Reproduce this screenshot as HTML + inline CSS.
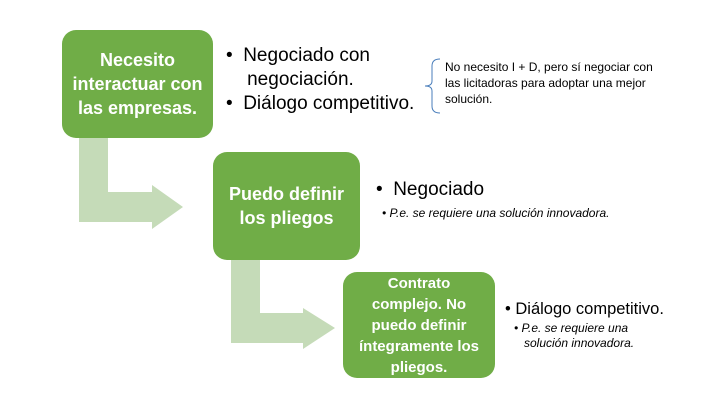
<!DOCTYPE html>
<html><head><meta charset="utf-8"><style>
body{margin:0;width:720px;height:405px;background:#fff;position:relative;overflow:hidden;font-family:"Liberation Sans",sans-serif}
.b{position:absolute;background:#70ad47;border-radius:14px;color:#fff;font-weight:bold;display:flex;align-items:center;justify-content:center;text-align:center}
.t{position:absolute;color:#000;white-space:nowrap}
</style></head><body>
<svg width="720" height="405" style="position:absolute;left:0;top:0">
<polygon points="79,138 108,138 108,192 152,192 152,185 183,207 152,229 152,222 79,222" fill="#c5dbb8"/>
<polygon points="231,260 260,260 260,313 303,313 303,308 335,328 303,349 303,343 231,343" fill="#c5dbb8"/>
<path d="M440,59 Q432,59 432,66 L432,81 Q432,86 425,86 Q432,86 432,91 L432,106 Q432,113 440,113" fill="none" stroke="#4a7ebb" stroke-width="1"/>
</svg>
<div class="b" style="left:62px;top:30px;width:151px;height:108px;font-size:18px;line-height:24px">Necesito<br>interactuar con<br>las empresas.</div>
<div class="b" style="left:213px;top:152px;width:147px;height:108px;font-size:18px;line-height:24px">Puedo definir<br>los pliegos</div>
<div class="b" style="left:343px;top:272px;width:152px;height:106px;font-size:15px;line-height:21px">Contrato<br>complejo. No<br>puedo definir<br>íntegramente los<br>pliegos.</div>
<div class="t" style="left:226px;top:44px;font-size:19px;line-height:24px">•&nbsp; Negociado con<br>&nbsp;&nbsp;&nbsp;&nbsp;negociación.<br>•&nbsp; Diálogo competitivo.</div>
<div class="t" style="left:445px;top:59px;font-size:12px;line-height:16px">No necesito I + D, pero sí negociar con<br>las licitadoras para adoptar una mejor<br>solución.</div>
<div class="t" style="left:376px;top:179px;font-size:19px;line-height:22px">•&nbsp; Negociado</div>
<div class="t" style="left:382px;top:206px;font-size:12px;font-style:italic">• P.e. se requiere una solución innovadora.</div>
<div class="t" style="left:505px;top:299px;font-size:16.5px;line-height:20px">• Diálogo competitivo.</div>
<div class="t" style="left:514px;top:321px;font-size:12px;font-style:italic;line-height:15px">• P.e. se requiere una<br>&nbsp;&nbsp;&nbsp;solución innovadora.</div>
</body></html>
